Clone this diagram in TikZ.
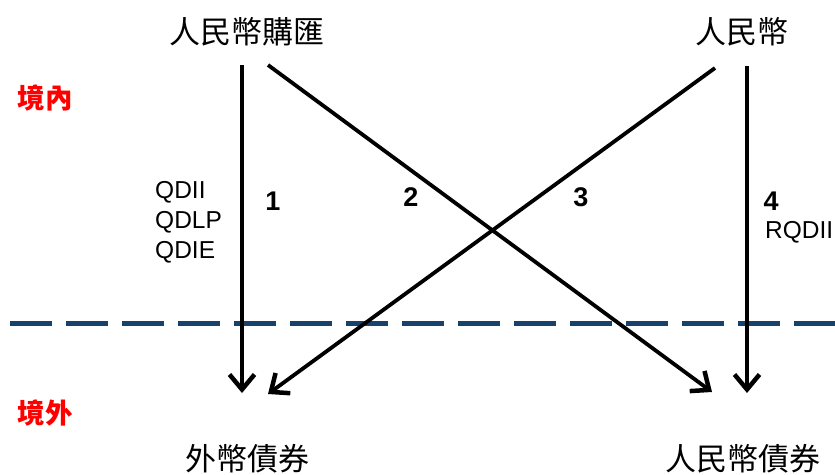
\documentclass[tikz,border=0pt]{standalone}
\usepackage{fontspec}
\setmainfont{Liberation Sans}
\newfontfamily\cjk{Noto Sans CJK TC}
\usetikzlibrary{arrows.meta}
\definecolor{navy}{RGB}{24,66,110}
\begin{document}
\begin{tikzpicture}[x=1pt,y=-1pt,
  cjklabel/.style={font=\cjk\fontsize{31}{34}\selectfont, inner sep=0pt},
  zone/.style={font=\cjk\bfseries\fontsize{27.5}{30}\selectfont, text=red, inner sep=0pt},
  flow/.style={line width=3.8pt, -{Straight Barb[length=15pt,width=25pt,line width=4.5pt]}},
  num/.style={font=\bfseries\fontsize{27}{30}\selectfont, inner sep=0pt},
  prog/.style={font=\fontsize{24.5}{30}\selectfont, inner sep=0pt, align=left},
  divider/.style={line width=5pt, color=navy, dash pattern=on 42pt off 14pt}
]
\useasboundingbox (0,0) rectangle (835,474);
\node[cjklabel] (cnyfx) at (247,31.5) {人民幣購匯};
\node[cjklabel] (cny) at (742,31.5) {人民幣};
\node[cjklabel] (fxbond) at (247,459) {外幣債券};
\node[cjklabel] (cnybond) at (743,459) {人民幣債券};
\node[zone] (inside) at (45,98) {境內};
\node[zone] (outside) at (45,413) {境外};

\coordinate (a1s) at (242,65);
\coordinate (a1e) at (242,393);
\coordinate (a2s) at (268,65);
\coordinate (a2e) at (712,392);
\coordinate (a3s) at (715,68);
\coordinate (a3e) at (268,394);
\coordinate (a4s) at (747,66);
\coordinate (a4e) at (747,393);
\coordinate (dl) at (10,323);
\coordinate (dr) at (835,323);

\draw[divider] (dl) -- (dr);
\draw[flow] (a1s) -- (a1e);
\draw[flow] (a2s) -- (a2e);
\draw[flow] (a3s) -- (a3e);
\draw[flow] (a4s) -- (a4e);

\node[num] (n1) at (273,201) {1};
\node[num] (n2) at (411,197) {2};
\node[num] (n3) at (581,197) {3};
\node[num] (n4) at (771,201) {4};
\node[prog, anchor=north west] (qd) at (155,181) {QDII\\QDLP\\QDIE};
\node[prog, anchor=west] (rq) at (765,232) {RQDII};
\end{tikzpicture}
\end{document}
